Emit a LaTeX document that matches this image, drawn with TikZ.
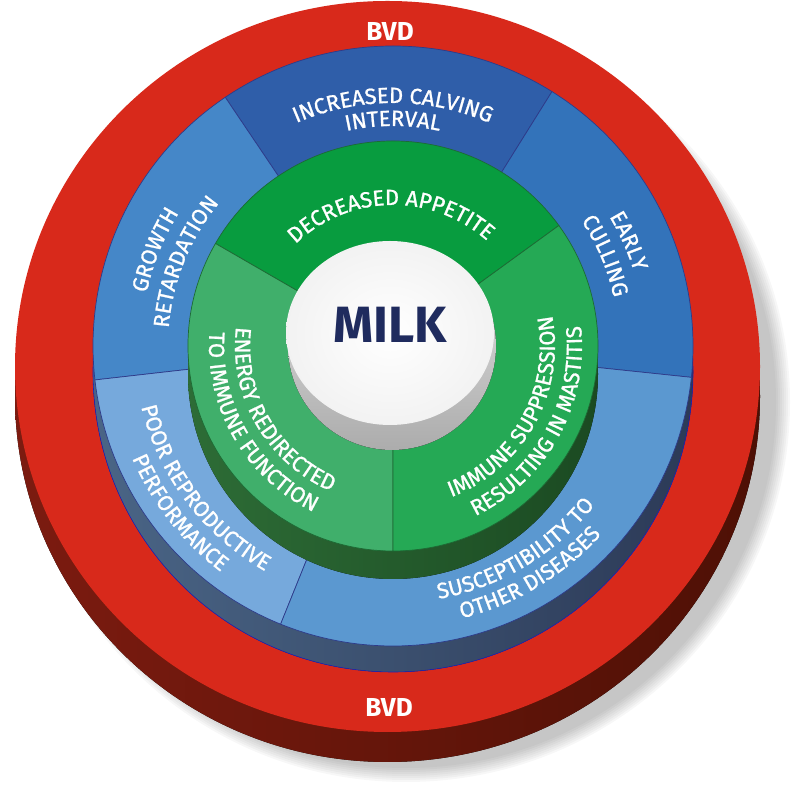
\documentclass[tikz,border=0pt]{standalone}
\usepackage{fontspec}
\setmainfont{Fira Sans}
\newfontfamily\lblfont[FakeBold=1]{Fira Sans}
\usetikzlibrary{decorations.text}
\definecolor{redface}{HTML}{D8291B}
\definecolor{redsideL}{HTML}{7C1B10}
\definecolor{redsideR}{HTML}{4E1005}
\definecolor{bIncr}{HTML}{2F5EA9}
\definecolor{bEarly}{HTML}{3373BA}
\definecolor{bGrowth}{HTML}{4587C8}
\definecolor{bPoor}{HTML}{76A9DC}
\definecolor{bSusc}{HTML}{5B98D0}
\definecolor{bline}{HTML}{2E3B8A}
\definecolor{bsideL}{HTML}{4A6586}
\definecolor{bsideR}{HTML}{2C3A57}
\definecolor{gDec}{HTML}{089C3F}
\definecolor{gEnergy}{HTML}{40AF6B}
\definecolor{gImm}{HTML}{25A955}
\definecolor{gline}{HTML}{1D6A34}
\definecolor{gsideL}{HTML}{2D6C36}
\definecolor{gsideR}{HTML}{1B4A22}
\definecolor{milkblue}{HTML}{1F2B5E}
\tikzset{
  arclbl/.style={decorate, decoration={text along path, text align=center,
      text={|\lblfont\fontsize{22}{22}\selectfont\color{white}|#1}}},
  bluesec/.style={fill=#1, draw=bline, line width=0.7pt},
  greensec/.style={fill=#1, draw=gline, line width=0.7pt},
  bvdlbl/.style={font=\fontsize{26}{26}\selectfont\bfseries, text=white},
}
\begin{document}
\begin{tikzpicture}[x=1pt,y=1pt]
\useasboundingbox (0,0) rectangle (800,794);
\coordinate (C) at (393,448);
% soft shadow
\foreach \k in {0,...,7}
  \fill[black,opacity=0.03] (406,392) ellipse [x radius={370+2*\k}, y radius={366+2*\k}];
% red disc
\fill[left color=redsideL, right color=redsideR] (387.5,397.5) ellipse [x radius=372.5, y radius=365.5];
\fill[redface] (387.5,427.5) ellipse [x radius=372.5, y radius=365.5];
\node[bvdlbl] (bvdtop) at (390,762) {BVD};
\node[bvdlbl] (bvdbot) at (389,87) {BVD};
% blue disc
\fill[left color=bsideL, right color=bsideR] (393,422) circle[radius=300];
\draw[bline!60!blue, line width=0.6pt] (393,422) circle[radius=300];
\foreach \a/\b/\col in {58/124/bIncr, -6/58/bEarly, 124/186.5/bGrowth, 186.5/248/bPoor, 248/354/bSusc}
  \draw[bluesec=\col] (C) -- ++(\a:300) arc[start angle=\a, end angle=\b, radius=300] -- cycle;
% green disc
\fill[left color=gsideL, right color=gsideR] (393,420) circle[radius=205];
\foreach \a/\b/\col in {36/150/gDec, 150/270/gEnergy, 270/396/gImm}
  \draw[greensec=\col] (C) -- ++(\a:205) arc[start angle=\a, end angle=\b, radius=205] -- cycle;
% white cylinder
\fill[top color=gray!20, bottom color=gray!65] (392,448) circle[radius=104];
\shade[inner color=white, outer color=gray!10] (390,461) ellipse [x radius=104, y radius=92];
\node[font=\fontsize{51}{51}\selectfont\bfseries, text=milkblue] (milk) at (390,469) {MILK};
% blue labels
\path[arclbl={INCREASED CALVING}] ([shift={(C)}]160:243) arc[start angle=160, end angle=20, radius=243];
\path[arclbl={INTERVAL}] ([shift={(C)}]160:220) arc[start angle=160, end angle=20, radius=220];
\path[arclbl={GROWTH}] ([shift={(C)}]228:252) arc[start angle=228, end angle=88, radius=252];
\path[arclbl={RETARDATION}] ([shift={(C)}]228:225) arc[start angle=228, end angle=88, radius=225];
\path[arclbl={EARLY}] ([shift={(C)}]94:252) arc[start angle=94, end angle=-46, radius=252];
\path[arclbl={CULLING}] ([shift={(C)}]93:226) arc[start angle=93, end angle=-47, radius=226];
\path[arclbl={POOR REPRODUCTIVE}] ([shift={(C)}]147:259) arc[start angle=147, end angle=287, radius=259];
\path[arclbl={PERFORMANCE}] ([shift={(C)}]148:284) arc[start angle=148, end angle=288, radius=284];
\path[arclbl={SUSCEPTIBILITY TO}] ([shift={(C)}]231:257) arc[start angle=231, end angle=371, radius=257];
\path[arclbl={OTHER DISEASES}] ([shift={(C)}]231:281) arc[start angle=231, end angle=371, radius=281];
% green labels
\path[arclbl={DECREASED APPETITE}] ([shift={(C)}]171:141) arc[start angle=171, end angle=11, radius=141];
\path[arclbl={ENERGY REDIRECTED}] ([shift={(C)}]130:158) arc[start angle=130, end angle=290, radius=158];
\path[arclbl={TO IMMUNE FUNCTION}] ([shift={(C)}]130:184) arc[start angle=130, end angle=290, radius=184];
\path[arclbl={IMMUNE SUPPRESSION}] ([shift={(C)}]251:162) arc[start angle=251, end angle=411, radius=162];
\path[arclbl={RESULTING IN MASTITIS}] ([shift={(C)}]251:189) arc[start angle=251, end angle=411, radius=189];
\end{tikzpicture}
\end{document}
